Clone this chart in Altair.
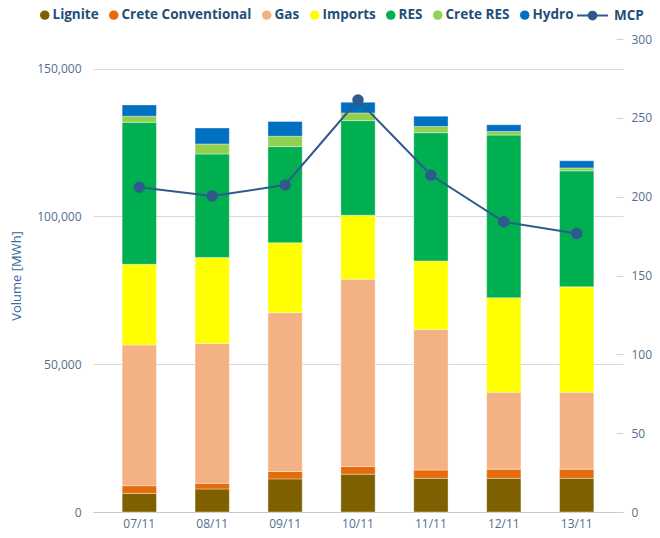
import altair as alt
import pandas as pd

dates = ["07/11", "08/11", "09/11", "10/11", "11/11", "12/11", "13/11"]
series_names = ["Lignite", "Crete Conventional", "Gas", "Imports", "RES", "Crete RES", "Hydro"]
series_colors = ["#7f6000", "#e46c0a", "#f4b183", "#ffff00", "#00b050", "#92d050", "#0070c0"]

lignite = [6300, 7800, 11200, 12800, 11400, 11400, 11400]
crete_conv = [2600, 1900, 2500, 2600, 2800, 3100, 3100]
gas = [47600, 47300, 53700, 63300, 47500, 26000, 26000]
imports = [27300, 29100, 23700, 21700, 23200, 32000, 35700]
res = [48000, 35000, 32500, 32000, 43400, 55000, 39200]
crete_res = [2100, 3400, 3500, 2600, 2100, 1200, 1000]
hydro = [3800, 5400, 5000, 3600, 3500, 2300, 2400]
mcp = [206.0, 200.4, 207.4, 261.3, 213.7, 184.1, 176.7]

left_ticks = [0, 50000, 100000, 150000]
right_ticks = [0, 50, 100, 150, 200, 250, 300]

series_values = [lignite, crete_conv, gas, imports, res, crete_res, hydro]
rows = []
for k, (name, vals) in enumerate(zip(series_names, series_values)):
    for d, v in zip(dates, vals):
        rows.append({"date": d, "series": name, "value": v, "order": k})
bars_df = pd.DataFrame(rows)
mcp_df = pd.DataFrame({"date": dates, "mcp": mcp, "series": ["MCP"] * len(dates)})

FONT = "Open Sans"
LINE_COLOR = "#2e5b8c"
LEGEND_TEXT = "#1f4e79"
AXIS_TEXT = "#4f6f8f"

x_enc = alt.X(
    "date:N",
    sort=dates,
    title=None,
    scale=alt.Scale(paddingInner=0.53, paddingOuter=0.4),
    axis=alt.Axis(labelAngle=0, ticks=False, domain=True, domainColor="#c8c8c8",
                  labelPadding=6, labelFontSize=12, labelColor=AXIS_TEXT, labelFont=FONT,
                  grid=False),
)

bars = alt.Chart(bars_df).mark_bar(stroke="white", strokeWidth=0.5, strokeOpacity=0.7).encode(
    x=x_enc,
    y=alt.Y(
        "value:Q",
        stack="zero",
        scale=alt.Scale(domain=[0, 160000], nice=False),
        axis=alt.Axis(values=left_ticks, format=",.0f", title="Volume [MWh]", ticks=False, domain=False,
                      labelPadding=12, labelFontSize=12, labelColor=AXIS_TEXT, labelFont=FONT,
                      titleFont=FONT, titleFontSize=13, titleFontWeight="normal", titleColor="#3a6a9c",
                      titlePadding=13, gridColor="#d9d9d9", gridWidth=1),
    ),
    color=alt.Color(
        "series:N",
        scale=alt.Scale(domain=series_names, range=series_colors),
        legend=alt.Legend(orient="none", legendX=-55, legendY=-31, direction="horizontal",
                          columns=7, title=None, symbolType="circle", symbolSize=90,
                          symbolStrokeWidth=0, labelFont=FONT, labelFontWeight="bold",
                          labelFontSize=13.5, labelColor=LEGEND_TEXT, labelOffset=1,
                          columnPadding=8, padding=0, labelLimit=300),
    ),
    order=alt.Order("order:Q", sort="ascending"),
)

mcp_line = alt.Chart(mcp_df).mark_line(
    strokeWidth=2,
    point=alt.OverlayMarkDef(filled=True, fill=LINE_COLOR, size=90, opacity=1),
).encode(
    x=alt.X("date:N", sort=dates),
    y=alt.Y(
        "mcp:Q",
        scale=alt.Scale(domain=[0, 300], nice=False),
        axis=alt.Axis(orient="right", values=right_ticks, title=None, grid=False, domain=False,
                      ticks=True, tickSize=7, tickColor="#d0d0d0", offset=-7, labelPadding=8,
                      labelFontSize=12, labelColor=AXIS_TEXT, labelFont=FONT),
    ),
    stroke=alt.Stroke(
        "series:N",
        scale=alt.Scale(domain=["MCP"], range=[LINE_COLOR]),
        legend=alt.Legend(orient="none", legendX=483, legendY=-40, title=None,
                          symbolType="M-1,0H1M-0.25,0A0.25,0.25,0,1,0,0.25,0A0.25,0.25,0,1,0,-0.25,0Z",
                          symbolSize=961, labelFont=FONT, labelFontWeight="bold",
                          labelFontSize=13.5, labelColor=LEGEND_TEXT, labelOffset=5, padding=0,
                          symbolStrokeColor=LINE_COLOR, symbolStrokeWidth=2,
                          symbolFillColor=LINE_COLOR),
    ),
)

chart = alt.layer(bars, mcp_line).resolve_scale(y="independent").properties(
    width=530,
    height=473,
    view=alt.ViewBackground(stroke="transparent", strokeWidth=0, strokeOpacity=0),
    autosize=alt.AutoSizeParams(type="none"),
    padding={"left": 85, "top": 31, "right": 29, "bottom": 18},
).configure(
    font=FONT,
    view=alt.ViewConfig(stroke="transparent", strokeWidth=0, strokeOpacity=0),
)

chart.save("out.html", embed_options={"renderer": "svg", "actions": False})
